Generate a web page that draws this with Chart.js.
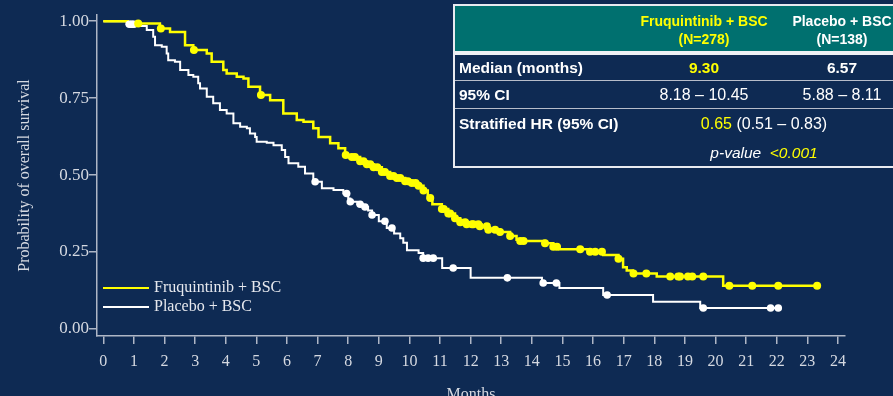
<!DOCTYPE html>
<html>
<head>
<meta charset="utf-8">
<script src="https://cdn.jsdelivr.net/npm/chart.js@4.4.1/dist/chart.umd.min.js"></script>
<style>
  html, body { margin: 0; padding: 0; background: #0e2a53; overflow: hidden; }
  #wrap { position: relative; width: 893px; height: 396px; }
  #km { position: absolute; left: 0; top: 0; }
  #tbl { position: absolute; left: 453px; top: 4px; width: 460px; height: 160px;
         border: 2px solid #e8eaf0; font-family: "Liberation Sans", Arial, sans-serif; color: #ffffff; }
  #tbl .hdr { position: absolute; left: 0; top: 0; right: 0; height: 45px; background: #00706f; }
  #tbl .sep { position: absolute; left: 0; right: 0; top: 45px; height: 4px; background: #eef0f4; }
  #tbl .rule { position: absolute; left: 0; right: 0; height: 1px; background: #b7bdca; }
  #tbl .c { position: absolute; text-align: center; white-space: nowrap; }
  #tbl .l { position: absolute; left: 4px; white-space: nowrap; font-weight: bold; font-size: 15.5px; }
  .yel { color: #ffff00; }
  .b { font-weight: bold; }
</style>
</head>
<body>
<div id="wrap">
  <canvas id="km" width="893" height="396"></canvas>
  <div id="tbl">
    <div class="hdr"></div>
    <div class="sep"></div>
    <div class="c b yel" style="left:169px;width:160px;top:6px;font-size:14px;line-height:18px;">Fruquintinib + BSC<br>(N=278)</div>
    <div class="c b" style="left:307px;width:160px;top:6px;font-size:14px;line-height:18px;">Placebo + BSC<br>(N=138)</div>

    <div class="l" style="top:53px;line-height:18px;">Median (months)</div>
    <div class="c b yel" style="left:179px;width:140px;top:53px;font-size:15.5px;line-height:18px;">9.30</div>
    <div class="c b" style="left:317px;width:140px;top:53px;font-size:15.5px;line-height:18px;">6.57</div>
    <div class="rule" style="top:74px;"></div>

    <div class="l" style="top:80px;line-height:18px;">95% CI</div>
    <div class="c" style="left:179px;width:140px;top:80px;font-size:16px;line-height:18px;">8.18 – 10.45</div>
    <div class="c" style="left:317px;width:140px;top:80px;font-size:16px;line-height:18px;">5.88 – 8.11</div>
    <div class="rule" style="top:102px;"></div>

    <div class="l" style="top:109px;line-height:18px;">Stratified HR (95% CI)</div>
    <div class="c" style="left:209px;width:200px;top:109px;font-size:16px;line-height:18px;"><span class="yel">0.65</span> (0.51 – 0.83)</div>
    <div class="c" style="left:209px;width:200px;top:138px;font-size:15.5px;line-height:18px;font-style:italic;">p-value&nbsp;&nbsp;<span class="yel">&lt;0.001</span></div>
  </div>
</div>
<script>
// Kaplan–Meier overall survival, step points (month, survival probability)
const fruqTimes = [0, 0.8, 1.14, 1.85, 2.18, 2.67, 2.94, 3.38, 3.54, 3.92, 4.03, 4.36, 4.58, 4.74, 5.12, 5.45, 5.88, 6.32, 6.54, 6.86, 7.03, 7.41, 7.68, 7.9, 8.12, 8.39, 8.61, 8.83, 9.1, 9.37, 9.59, 9.86, 10.08, 10.3, 10.46, 10.6, 10.75, 11.06, 11.27, 11.49, 11.66, 11.87, 12.3, 12.58, 12.96, 13.29, 13.5, 13.62, 14.43, 14.7, 14.9, 15.85, 16.33, 16.83, 16.98, 17.1, 17.3, 18.08, 20.25, 23.32];
const fruqSurv  = [1.0, 0.996, 0.992, 0.976, 0.965, 0.922, 0.906, 0.895, 0.868, 0.841, 0.83, 0.819, 0.814, 0.787, 0.76, 0.743, 0.70, 0.679, 0.673, 0.652, 0.624, 0.603, 0.587, 0.565, 0.559, 0.545, 0.535, 0.525, 0.51, 0.497, 0.49, 0.48, 0.474, 0.465, 0.45, 0.425, 0.405, 0.39, 0.375, 0.36, 0.347, 0.34, 0.334, 0.322, 0.315, 0.302, 0.29, 0.286, 0.278, 0.267, 0.259, 0.251, 0.24, 0.228, 0.2, 0.19, 0.18, 0.17, 0.14, 0.14];
const fruqCensored = [1.14, 1.88, 2.96, 5.15, 7.92, 8.12, 8.22, 8.39, 8.5, 8.61, 8.72, 8.83, 8.95, 9.1, 9.2, 9.37, 9.48, 9.59, 9.7, 9.86, 9.95, 10.08, 10.2, 10.3, 10.46, 10.68, 11.06, 11.12, 11.27, 11.33, 11.49, 11.66, 11.82, 11.87, 12.04, 12.09, 12.25, 12.3, 12.53, 12.58, 12.8, 12.96, 13.29, 13.62, 13.73, 14.43, 14.7, 14.82, 15.58, 15.9, 16.07, 16.29, 16.83, 17.32, 17.74, 18.52, 18.78, 18.84, 19.1, 19.24, 19.6, 20.45, 21.2, 22.05, 23.32];

const placTimes = [0, 0.65, 0.76, 1.09, 1.42, 1.63, 1.69, 1.91, 2.07, 2.12, 2.34, 2.51, 2.78, 2.94, 3.1, 3.16, 3.38, 3.59, 3.81, 4.03, 4.25, 4.47, 4.69, 4.79, 4.96, 5.01, 5.34, 5.56, 5.83, 5.94, 6.05, 6.37, 6.59, 6.86, 7.14, 7.52, 7.84, 8.0, 8.07, 8.3, 8.49, 8.65, 8.78, 9.0, 9.26, 9.5, 9.7, 9.8, 9.92, 10.3, 10.45, 11.07, 12.0, 14.33, 14.9, 16.33, 17.96, 19.5, 22.05];
const placSurv  = [1.0, 1.0, 0.99, 0.984, 0.971, 0.949, 0.922, 0.917, 0.895, 0.873, 0.868, 0.841, 0.825, 0.819, 0.798, 0.781, 0.754, 0.733, 0.711, 0.70, 0.668, 0.657, 0.652, 0.635, 0.624, 0.608, 0.605, 0.597, 0.581, 0.559, 0.538, 0.527, 0.505, 0.478, 0.457, 0.451, 0.44, 0.424, 0.413, 0.405, 0.396, 0.385, 0.37, 0.35, 0.328, 0.31, 0.295, 0.28, 0.256, 0.247, 0.23, 0.198, 0.166, 0.149, 0.133, 0.11, 0.088, 0.068, 0.068];
const placCensored = [0.85, 0.9, 0.95, 1.0, 6.92, 7.95, 8.07, 8.39, 8.55, 8.78, 9.2, 9.43, 10.45, 10.61, 10.78, 11.43, 13.2, 14.37, 14.8, 16.46, 19.6, 21.8, 22.05];

const seriesNames = ['Fruquintinib + BSC', 'Placebo + BSC'];
const xTickValues = [0, 1, 2, 3, 4, 5, 6, 7, 8, 9, 10, 11, 12, 13, 14, 15, 16, 17, 18, 19, 20, 21, 22, 23, 24];
const yTickValues = [0, 0.25, 0.5, 0.75, 1.0];

const YELLOW = '#ffff00';
const WHITE = '#ffffff';
const AXIS = '#aeb6c6';
const LABEL = '#d5d9e1';
const SERIF = '"Liberation Serif", "Times New Roman", serif';

function curvePoints(times, surv) {
  return times.map((t, i) => ({ x: t, y: surv[i] }));
}
// survival value of the step curve at time t
function survivalAt(times, surv, t) {
  let s = surv[0];
  for (let i = 0; i < times.length; i++) {
    if (times[i] <= t + 1e-9) s = surv[i]; else break;
  }
  return s;
}
function censorPoints(times, surv, cens) {
  return cens.map(t => ({ x: t, y: survivalAt(times, surv, t) }));
}

const insideLegend = {
  id: 'insideLegend',
  afterDraw(chart) {
    const ctx = chart.ctx;
    const left = chart.chartArea.left + 6;
    const rows = [
      { name: seriesNames[0], color: YELLOW, y: 288 },
      { name: seriesNames[1], color: WHITE, y: 307 }
    ];
    ctx.save();
    ctx.font = '16px ' + SERIF;
    ctx.textBaseline = 'middle';
    rows.forEach(r => {
      ctx.strokeStyle = r.color;
      ctx.lineWidth = 2;
      ctx.beginPath();
      ctx.moveTo(left, r.y);
      ctx.lineTo(left + 46, r.y);
      ctx.stroke();
      ctx.fillStyle = '#e6e8ee';
      ctx.fillText(r.name, left + 51, r.y);
    });
    ctx.restore();
  }
};

new Chart(document.getElementById('km'), {
  type: 'line',
  data: {
    datasets: [
      {
        label: seriesNames[0],
        data: curvePoints(fruqTimes, fruqSurv),
        borderColor: YELLOW, borderWidth: 2.5, stepped: 'before',
        pointRadius: 0, fill: false, order: 3
      },
      {
        label: seriesNames[1],
        data: curvePoints(placTimes, placSurv),
        borderColor: WHITE, borderWidth: 2, stepped: 'before',
        pointRadius: 0, fill: false, order: 4
      },
      {
        label: seriesNames[0] + ' censored',
        type: 'scatter',
        data: censorPoints(fruqTimes, fruqSurv, fruqCensored),
        backgroundColor: YELLOW, borderColor: YELLOW, pointRadius: 4, pointBorderWidth: 0,
        showLine: false, order: 1
      },
      {
        label: seriesNames[1] + ' censored',
        type: 'scatter',
        data: censorPoints(placTimes, placSurv, placCensored),
        backgroundColor: WHITE, borderColor: WHITE, pointRadius: 3.8, pointBorderWidth: 0,
        showLine: false, order: 2
      }
    ]
  },
  options: {
    responsive: false,
    animation: false,
    events: [],
    layout: { padding: { left: 0, top: 15, right: 48, bottom: 0 } },
    plugins: { legend: { display: false }, tooltip: { enabled: false } },
    scales: {
      x: {
        type: 'linear',
        min: -0.206, max: 24.23,
        afterFit(scale) { scale.height = 60; },
        afterBuildTicks(scale) { scale.ticks = xTickValues.map(v => ({ value: v })); },
        grid: { drawOnChartArea: false, drawTicks: true, tickLength: 8, color: AXIS, lineWidth: 1.5 },
        border: { display: true, color: AXIS, width: 1.5 },
        ticks: { color: LABEL, font: { family: SERIF, size: 16 }, padding: 8, maxRotation: 0, autoSkip: false },
        title: { display: true, text: 'Months', color: LABEL, font: { family: SERIF, size: 16 }, padding: { top: 0, bottom: -8 } }
      },
      y: {
        type: 'linear',
        min: -0.023, max: 1.02,
        afterFit(scale) { scale.width = 97; },
        afterBuildTicks(scale) { scale.ticks = yTickValues.map(v => ({ value: v })); },
        grid: { drawOnChartArea: false, drawTicks: true, tickLength: 8, color: AXIS, lineWidth: 1.5 },
        border: { display: true, color: AXIS, width: 1.5 },
        ticks: { color: LABEL, font: { family: SERIF, size: 17 }, padding: 0, callback: v => v.toFixed(2) },
        title: { display: true, text: 'Probability of overall survival', color: LABEL, font: { family: SERIF, size: 16 }, padding: { top: 15, bottom: 0 } }
      }
    }
  },
  plugins: [insideLegend]
});
</script>
</body>
</html>
